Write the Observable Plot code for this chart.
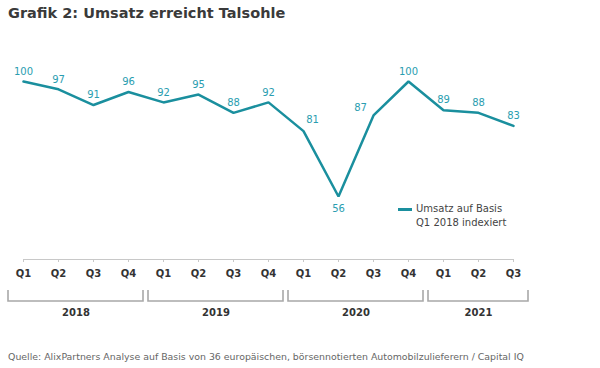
<!DOCTYPE html>
<html>
<head>
<meta charset="utf-8">
<script src="https://cdn.jsdelivr.net/npm/d3@7"></script>
<script src="https://cdn.jsdelivr.net/npm/@observablehq/plot@0.6"></script>
<style>
  html, body { margin: 0; padding: 0; background: #fff; }
  body { width: 600px; height: 368px; position: relative; overflow: hidden; font-family: "DejaVu Sans", Verdana, sans-serif; }
  #title { position: absolute; left: 8px; top: 5px; font-size: 14.5px; font-weight: bold; color: #3a3a3a; }
  #chart { position: absolute; left: 0; top: 30px; }
  #legend { position: absolute; left: 398px; top: 202px; font-size: 10px; color: #444; line-height: 14px; }
  #legend .sw { position: absolute; left: 0; top: 6px; width: 14px; height: 3px; background: #1a8f9e; }
  #legend .tx { margin-left: 18px; }
  #source { position: absolute; left: 8px; top: 351px; font-size: 9.4px; color: #666; }
</style>
</head>
<body>
<div id="title">Grafik 2: Umsatz erreicht Talsohle</div>
<div id="chart"></div>
<div id="legend"><div class="sw"></div><div class="tx">Umsatz auf Basis<br>Q1 2018 indexiert</div></div>
<div id="source">Quelle: AlixPartners Analyse auf Basis von 36 europäischen, börsennotierten Automobilzulieferern / Capital IQ</div>
<script>
const quarters = ["Q1","Q2","Q3","Q4","Q1","Q2","Q3","Q4","Q1","Q2","Q3","Q4","Q1","Q2","Q3"];
const quarterYears = [2018,2018,2018,2018,2019,2019,2019,2019,2020,2020,2020,2020,2021,2021,2021];
const values = [100,97,91,96,92,95,88,92,81,56,87,100,89,88,83];
const years = [2018, 2019, 2020, 2021];

const data = values.map((v, i) => ({i, v, q: quarters[i], year: quarterYears[i]}));
const yearSpans = years.map(y => {
  const idx = data.filter(d => d.year === y).map(d => d.i);
  return {year: y, start: d3.min(idx), end: d3.max(idx)};
});

const lineColor = "#1a8f9e";
const labelColor = "#2a9db0";
const greyLine = "#a8a8a8";

// special label placements
const labelLeft = new Set([10]);   // 87
const labelRight = new Set([8]);   // 81
const labelBelow = new Set([9]);   // 56

function brackets(index, scales, values, dims) {
  const x = scales.x;
  const y0 = dims.height - dims.marginBottom;
  const g = d3.create("svg:g");
  // axis line
  g.append("line")
    .attr("x1", x(0)).attr("x2", x(data.length - 1))
    .attr("y1", y0 + 0.5).attr("y2", y0 + 0.5)
    .attr("stroke", "#c8c8c8").attr("stroke-width", 1);
  const half = (x(1) - x(0)) / 2;
  for (const s of yearSpans) {
    const a = x(s.start) - half + 2.5, b = x(s.end) + half - 2.5;
    g.append("path")
      .attr("d", `M${a},${y0 + 31}V${y0 + 42}H${b}V${y0 + 31}`)
      .attr("fill", "none").attr("stroke", greyLine).attr("stroke-width", 1.6);
  }
  return g.node();
}

const plot = Plot.plot({
  width: 600,
  height: 300,
  marginTop: 0,
  marginRight: 0,
  marginLeft: 0,
  marginBottom: 71,
  x: {type: "linear", domain: [-0.5, data.length - 0.5], range: [5.5, 5.5 + 35 * data.length]},
  y: {type: "linear", domain: [56, 100], range: [166, 51]},
  style: {fontFamily: "DejaVu Sans, Verdana, sans-serif", background: "transparent"},
  marks: [
    Plot.axisX({
      ticks: data.map(d => d.i),
      tickFormat: i => quarters[i],
      tickSize: 3,
      tickPadding: 7,
      stroke: "#c8c8c8",
      color: "#333",
      fontWeight: "bold",
      fontSize: 10,
      label: null
    }),
    Plot.axisY({ticks: [], label: null}),
    brackets,
    Plot.text(yearSpans, {
      x: d => (d.start + d.end) / 2,
      text: d => String(d.year),
      frameAnchor: "bottom",
      dy: 56,
      fontWeight: "bold",
      fontSize: 10,
      fill: "#333"
    }),
    Plot.line(data, {x: "i", y: "v", stroke: lineColor, strokeWidth: 2.5, strokeLinejoin: "miter"}),
    Plot.text(data.filter(d => !labelLeft.has(d.i) && !labelRight.has(d.i) && !labelBelow.has(d.i)), {
      x: "i", y: "v", text: d => String(d.v), dy: -10, fill: labelColor, fontSize: 10
    }),
    Plot.text(data.filter(d => labelLeft.has(d.i)), {
      x: "i", y: "v", text: d => String(d.v), dx: -13, dy: -8, fill: labelColor, fontSize: 10
    }),
    Plot.text(data.filter(d => labelRight.has(d.i)), {
      x: "i", y: "v", text: d => String(d.v), dx: 9, dy: -11, fill: labelColor, fontSize: 10
    }),
    Plot.text(data.filter(d => labelBelow.has(d.i)), {
      x: "i", y: "v", text: d => String(d.v), dy: 12, fill: labelColor, fontSize: 10
    })
  ]
});
document.getElementById("chart").appendChild(plot);
</script>
</body>
</html>
